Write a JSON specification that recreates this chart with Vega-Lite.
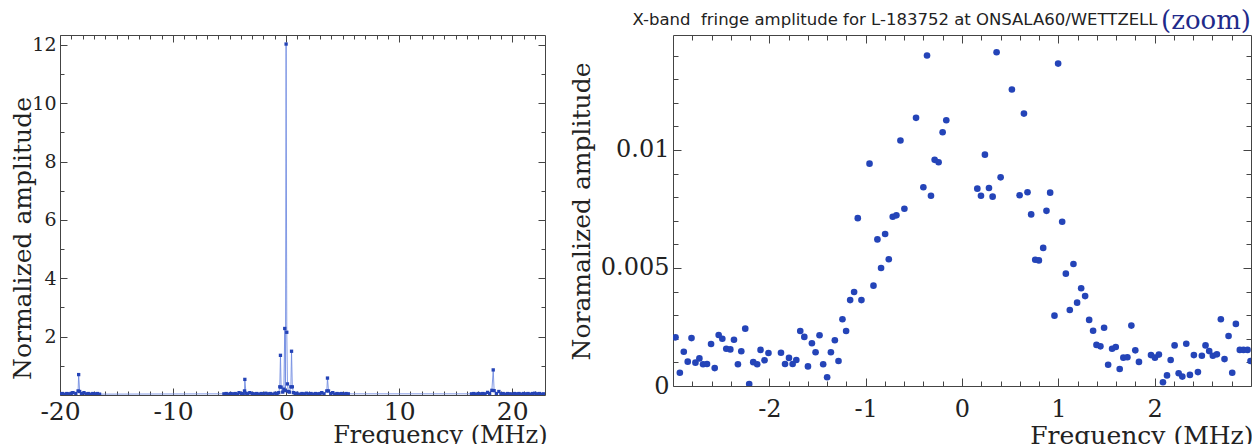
{
 "$schema": "https://vega.github.io/schema/vega-lite/v6.json",
 "padding": {"left": 9, "top": 7, "right": 0, "bottom": 0},
 "background": "white",
 "spacing": 20,
 "datasets": {
  "full": [
   {"f":-20.0,"a":0.04},{"f":-19.8,"a":0.05},{"f":-19.6,"a":0.03},{"f":-19.4,"a":0.05},{"f":-19.2,"a":0.04},{"f":-19.0,"a":0.06},{"f":-18.85,"a":0.08},{"f":-18.6,"a":0.05},{"f":-18.4,"a":0.14},{"f":-18.35,"a":0.70},{"f":-18.26,"a":0.12},{"f":-18.1,"a":0.05},{"f":-17.88,"a":0.08},{"f":-17.7,"a":0.04},{"f":-17.5,"a":0.05},{"f":-17.3,"a":0.03},{"f":-17.1,"a":0.05},{"f":-16.9,"a":0.04},{"f":-16.7,"a":0.05},{"f":-16.5,"a":0.03},
   {"f":-5.5,"a":0.04},{"f":-5.3,"a":0.05},{"f":-5.1,"a":0.03},{"f":-4.9,"a":0.05},{"f":-4.7,"a":0.04},{"f":-4.5,"a":0.05},{"f":-4.3,"a":0.03},{"f":-4.16,"a":0.08},{"f":-3.95,"a":0.05},{"f":-3.8,"a":0.04},{"f":-3.68,"a":0.14},{"f":-3.65,"a":0.535},{"f":-3.55,"a":0.06},{"f":-3.4,"a":0.04},{"f":-3.21,"a":0.08},{"f":-3.0,"a":0.05},{"f":-2.8,"a":0.04},{"f":-2.6,"a":0.05},{"f":-2.4,"a":0.03},{"f":-2.2,"a":0.05},{"f":-2.0,"a":0.04},{"f":-1.8,"a":0.06},{"f":-1.6,"a":0.04},{"f":-1.4,"a":0.05},{"f":-1.2,"a":0.03},{"f":-0.97,"a":0.06},{"f":-0.8,"a":0.05},{"f":-0.65,"a":0.08},{"f":-0.56,"a":0.28},{"f":-0.5,"a":1.36},{"f":-0.44,"a":0.27},{"f":-0.3,"a":0.1},{"f":-0.2,"a":0.2},{"f":-0.12,"a":2.28},{"f":-0.06,"a":0.15},{"f":0.0,"a":12.03},{"f":0.06,"a":2.15},{"f":0.12,"a":0.38},{"f":0.2,"a":0.12},{"f":0.3,"a":0.1},{"f":0.42,"a":0.28},{"f":0.48,"a":1.5},{"f":0.55,"a":0.28},{"f":0.65,"a":0.08},{"f":0.8,"a":0.05},{"f":0.95,"a":0.06},{"f":1.2,"a":0.03},{"f":1.4,"a":0.05},{"f":1.6,"a":0.04},{"f":1.8,"a":0.06},{"f":2.0,"a":0.04},{"f":2.2,"a":0.05},{"f":2.4,"a":0.03},{"f":2.6,"a":0.05},{"f":2.8,"a":0.04},{"f":3.0,"a":0.05},{"f":3.16,"a":0.08},{"f":3.35,"a":0.04},{"f":3.6,"a":0.14},{"f":3.66,"a":0.58},{"f":3.75,"a":0.14},{"f":3.95,"a":0.05},{"f":4.13,"a":0.08},{"f":4.3,"a":0.03},{"f":4.5,"a":0.05},{"f":4.7,"a":0.04},{"f":4.9,"a":0.05},{"f":5.1,"a":0.03},{"f":5.3,"a":0.05},{"f":5.5,"a":0.04},
   {"f":16.4,"a":0.04},{"f":16.6,"a":0.05},{"f":16.8,"a":0.03},{"f":17.0,"a":0.05},{"f":17.2,"a":0.04},{"f":17.4,"a":0.05},{"f":17.6,"a":0.04},{"f":17.82,"a":0.09},{"f":18.0,"a":0.05},{"f":18.2,"a":0.16},{"f":18.32,"a":0.86},{"f":18.4,"a":0.15},{"f":18.6,"a":0.05},{"f":18.82,"a":0.12},{"f":19.0,"a":0.04},{"f":19.2,"a":0.05},{"f":19.4,"a":0.03},{"f":19.6,"a":0.05},{"f":19.8,"a":0.04},{"f":20.0,"a":0.03},{"f":20.2,"a":0.05},{"f":20.4,"a":0.04},{"f":20.6,"a":0.05},{"f":20.8,"a":0.03},{"f":21.0,"a":0.05},{"f":21.2,"a":0.04},{"f":21.4,"a":0.05},{"f":21.6,"a":0.03},{"f":21.8,"a":0.05},{"f":22.0,"a":0.06},{"f":22.2,"a":0.04},{"f":22.4,"a":0.05},{"f":22.6,"a":0.03},{"f":22.8,"a":0.04}
  ],
  "zoom": [
   {"f":-2.974,"a":0.00206},{"f":-2.929,"a":0.00056},{"f":-2.888,"a":0.00145},{"f":-2.847,"a":0.00103},{"f":-2.808,"a":0.00203},{"f":-2.767,"a":0.00099},{"f":-2.726,"a":0.00117},{"f":-2.688,"a":0.00092},{"f":-2.647,"a":0.00093},{"f":-2.605,"a":0.00178},{"f":-2.567,"a":0.00076},{"f":-2.526,"a":0.00216},{"f":-2.488,"a":0.00200},{"f":-2.447,"a":0.00158},{"f":-2.405,"a":0.00155},{"f":-2.367,"a":0.00196},{"f":-2.326,"a":0.00092},{"f":-2.291,"a":0.00147},{"f":-2.250,"a":0.00243},{"f":-2.209,"a":0.00008},{"f":-2.167,"a":0.00101},{"f":-2.126,"a":0.00092},{"f":-2.091,"a":0.00153},{"f":-2.050,"a":0.00109},{"f":-2.009,"a":0.00140},{"f":-1.879,"a":0.00141},{"f":-1.837,"a":0.00093},{"f":-1.796,"a":0.00119},{"f":-1.758,"a":0.00093},{"f":-1.720,"a":0.00110},{"f":-1.679,"a":0.00233},{"f":-1.637,"a":0.00208},{"f":-1.599,"a":0.00083},{"f":-1.558,"a":0.00181},{"f":-1.520,"a":0.00143},{"f":-1.479,"a":0.00215},{"f":-1.441,"a":0.00092},{"f":-1.400,"a":0.00037},{"f":-1.361,"a":0.00143},{"f":-1.320,"a":0.00194},{"f":-1.282,"a":0.00106},{"f":-1.241,"a":0.00283},{"f":-1.203,"a":0.00233},{"f":-1.161,"a":0.00364},{"f":-1.120,"a":0.00398},{"f":-1.082,"a":0.00711},{"f":-1.044,"a":0.00364},{"f":-0.960,"a":0.00942},{"f":-0.919,"a":0.00425},{"f":-0.878,"a":0.00621},{"f":-0.840,"a":0.00500},{"f":-0.798,"a":0.00644},{"f":-0.760,"a":0.00537},{"f":-0.719,"a":0.00717},{"f":-0.681,"a":0.00723},{"f":-0.639,"a":0.01040},{"f":-0.598,"a":0.00751},{"f":-0.477,"a":0.01136},{"f":-0.401,"a":0.00842},{"f":-0.363,"a":0.01400},{"f":-0.322,"a":0.00806},{"f":-0.284,"a":0.00958},{"f":-0.243,"a":0.00948},{"f":-0.201,"a":0.01075},{"f":-0.163,"a":0.01126},
   {"f":0.159,"a":0.00836},{"f":0.197,"a":0.00806},{"f":0.238,"a":0.00980},{"f":0.280,"a":0.00839},{"f":0.318,"a":0.00802},{"f":0.359,"a":0.01414},{"f":0.401,"a":0.00884},{"f":0.518,"a":0.01256},{"f":0.598,"a":0.00808},{"f":0.643,"a":0.01154},{"f":0.680,"a":0.00821},{"f":0.718,"a":0.00727},{"f":0.760,"a":0.00535},{"f":0.798,"a":0.00532},{"f":0.843,"a":0.00585},{"f":0.877,"a":0.00742},{"f":0.915,"a":0.00819},{"f":0.960,"a":0.00298},{"f":0.998,"a":0.01366},{"f":1.040,"a":0.00696},{"f":1.078,"a":0.00476},{"f":1.119,"a":0.00322},{"f":1.157,"a":0.00517},{"f":1.195,"a":0.00353},{"f":1.237,"a":0.00414},{"f":1.278,"a":0.00381},{"f":1.320,"a":0.00280},{"f":1.361,"a":0.00234},{"f":1.396,"a":0.00174},{"f":1.437,"a":0.00168},{"f":1.475,"a":0.00247},{"f":1.517,"a":0.00090},{"f":1.558,"a":0.00158},{"f":1.596,"a":0.00165},{"f":1.637,"a":0.00072},{"f":1.675,"a":0.00120},{"f":1.717,"a":0.00122},{"f":1.758,"a":0.00256},{"f":1.799,"a":0.00151},{"f":1.837,"a":0.00102},{"f":1.962,"a":0.00131},{"f":2.003,"a":0.00120},{"f":2.044,"a":0.00133},{"f":2.086,"a":0.00016},{"f":2.128,"a":0.00045},{"f":2.166,"a":0.00110},{"f":2.207,"a":0.00172},{"f":2.249,"a":0.00054},{"f":2.287,"a":0.00040},{"f":2.328,"a":0.00179},{"f":2.366,"a":0.00047},{"f":2.407,"a":0.00131},{"f":2.449,"a":0.00059},{"f":2.490,"a":0.00128},{"f":2.528,"a":0.00172},{"f":2.566,"a":0.00148},{"f":2.604,"a":0.00128},{"f":2.646,"a":0.00134},{"f":2.687,"a":0.00283},{"f":2.725,"a":0.00114},{"f":2.767,"a":0.00212},{"f":2.805,"a":0.00056},{"f":2.843,"a":0.00263},{"f":2.884,"a":0.00153},{"f":2.922,"a":0.00153},{"f":2.964,"a":0.00153},{"f":2.995,"a":0.00106}
  ]
 },
 "hconcat": [
  {
   "width": 485,
   "height": 360,
   "data": {"name": "full"},
   "layer": [
    {
     "mark": {"type": "line", "color": "#6f8ae0", "strokeWidth": 1, "opacity": 0.85, "clip": true},
     "encoding": {
      "x": {"field": "f", "type": "quantitative", "scale": {"domain": [-20, 22.9], "nice": false, "zero": false},
       "axis": {"orient": "bottom", "values": [-20,-19,-18,-17,-16,-15,-14,-13,-12,-11,-10,-9,-8,-7,-6,-5,-4,-3,-2,-1,0,1,2,3,4,5,6,7,8,9,10,11,12,13,14,15,16,17,18,19,20,21,22],
        "labelExpr": "datum.value % 10 === 0 ? toString(datum.value) : ''",
        "tickSize": {"condition": {"test": "datum.value % 10 === 0", "value": -7}, "value": -4},
        "labelFontSize": 25, "labelPadding": 11,
        "title": "Frequency (MHz)", "titleFontSize": 24, "titleX": 487, "titleY": 28, "titleAlign": "right", "titleBaseline": "top"}},
      "y": {"field": "a", "type": "quantitative", "scale": {"domain": [0, 12.34], "nice": false},
       "axis": {"orient": "left", "values": [1,2,3,4,5,6,7,8,9,10,11,12],
        "labelExpr": "datum.value % 2 === 0 ? toString(datum.value) : ''",
        "tickSize": {"condition": {"test": "datum.value % 2 === 0", "value": -7}, "value": -4},
        "labelFontSize": 19, "labelPadding": 11,
        "title": "Normalized amplitude", "titleFontSize": 25, "titleX": -25, "titleY": 203, "titleAlign": "center", "titleBaseline": "bottom"}}
     }
    },
    {
     "mark": {"type": "point", "shape": "square", "filled": true, "size": 11, "color": "#2443b6", "opacity": 1, "clip": true},
     "encoding": {
      "x": {"field": "f", "type": "quantitative",
       "axis": {"orient": "top", "values": [-20,-19,-18,-17,-16,-15,-14,-13,-12,-11,-10,-9,-8,-7,-6,-5,-4,-3,-2,-1,0,1,2,3,4,5,6,7,8,9,10,11,12,13,14,15,16,17,18,19,20,21,22],
        "labels": false, "title": null,
        "tickSize": {"condition": {"test": "datum.value % 10 === 0", "value": -7}, "value": -4}}},
      "y": {"field": "a", "type": "quantitative",
       "axis": {"orient": "right", "values": [1,2,3,4,5,6,7,8,9,10,11,12],
        "labels": false, "title": null,
        "tickSize": {"condition": {"test": "datum.value % 2 === 0", "value": -7}, "value": -4}}}
     }
    }
   ],
   "resolve": {"axis": {"x": "independent", "y": "independent"}}
  },
  {
   "width": 578,
   "height": 351,
   "data": {"name": "zoom"},
   "title": {"text": "(zoom)", "anchor": "end", "frame": "group", "font": "DejaVu Serif", "fontSize": 26, "fontWeight": "normal", "color": "#1f2a8a", "offset": 0, "dy": 44, "baseline": "alphabetic"},
   "layer": [
    {
     "mark": {"type": "point", "filled": true, "size": 44, "color": "#2444b8", "opacity": 1, "clip": true},
     "encoding": {
      "x": {"field": "f", "type": "quantitative", "scale": {"domain": [-3, 3], "nice": false, "zero": false},
       "axis": {"orient": "bottom", "values": [-2.8,-2.6,-2.4,-2.2,-2,-1.8,-1.6,-1.4,-1.2,-1,-0.8,-0.6,-0.4,-0.2,0,0.2,0.4,0.6,0.8,1,1.2,1.4,1.6,1.8,2,2.2,2.4,2.6,2.8],
        "labelExpr": "abs(datum.value - round(datum.value)) < 0.001 ? toString(round(datum.value)) : ''",
        "tickSize": {"condition": {"test": "abs(datum.value - round(datum.value)) < 0.001", "value": -8}, "value": -5},
        "labelFontSize": 24, "labelPadding": 19,
        "title": "Frequency (MHz)", "titleFontSize": 25, "titleX": 580, "titleY": 37, "titleAlign": "right", "titleBaseline": "top"}},
      "y": {"field": "a", "type": "quantitative", "scale": {"domain": [0, 0.01487], "nice": false},
       "axis": {"orient": "left", "values": [0,0.001,0.002,0.003,0.004,0.005,0.006,0.007,0.008,0.009,0.01,0.011,0.012,0.013,0.014],
        "labelExpr": "abs(datum.value*200 - round(datum.value*200)) < 0.001 ? toString(datum.value) : ''",
        "tickSize": {"condition": {"test": "abs(datum.value*200 - round(datum.value*200)) < 0.001", "value": -8}, "value": -5},
        "labelFontSize": 24, "labelPadding": 12,
        "title": "Noramalized amplitude", "titleFontSize": 25, "titleX": -79, "titleY": 176, "titleAlign": "center", "titleBaseline": "bottom"}}
     }
    },
    {
     "mark": {"type": "point", "filled": true, "size": 44, "color": "#2444b8", "opacity": 0},
     "encoding": {
      "x": {"field": "f", "type": "quantitative",
       "axis": {"orient": "top", "values": [-2.8,-2.6,-2.4,-2.2,-2,-1.8,-1.6,-1.4,-1.2,-1,-0.8,-0.6,-0.4,-0.2,0,0.2,0.4,0.6,0.8,1,1.2,1.4,1.6,1.8,2,2.2,2.4,2.6,2.8],
        "labels": false,
        "tickSize": {"condition": {"test": "abs(datum.value - round(datum.value)) < 0.001", "value": -8}, "value": -5},
        "title": "X-band\u00a0 fringe amplitude for L-183752 at ONSALA60/WETTZELL", "titleFont": "DejaVu Sans", "titleFontSize": 16.5, "titleColor": "#222", "titleX": 484, "titleY": -11, "titleAlign": "right", "titleBaseline": "alphabetic", "titleAngle": 0}},
      "y": {"field": "a", "type": "quantitative",
       "axis": {"orient": "right", "values": [0,0.001,0.002,0.003,0.004,0.005,0.006,0.007,0.008,0.009,0.01,0.011,0.012,0.013,0.014],
        "labels": false, "title": null,
        "tickSize": {"condition": {"test": "abs(datum.value*200 - round(datum.value*200)) < 0.001", "value": -8}, "value": -5}}}
     }
    }
   ],
   "resolve": {"axis": {"x": "independent", "y": "independent"}}
  }
 ],
 "config": {
  "view": {"stroke": "#444", "strokeWidth": 1},
  "axis": {"domain": false, "grid": false, "tickColor": "#444", "tickWidth": 1, "labelColor": "#222", "titleColor": "#222", "labelFont": "DejaVu Serif", "titleFont": "DejaVu Serif", "titleFontWeight": "normal", "labelOverlap": false, "labelFlush": false}
 }
}
